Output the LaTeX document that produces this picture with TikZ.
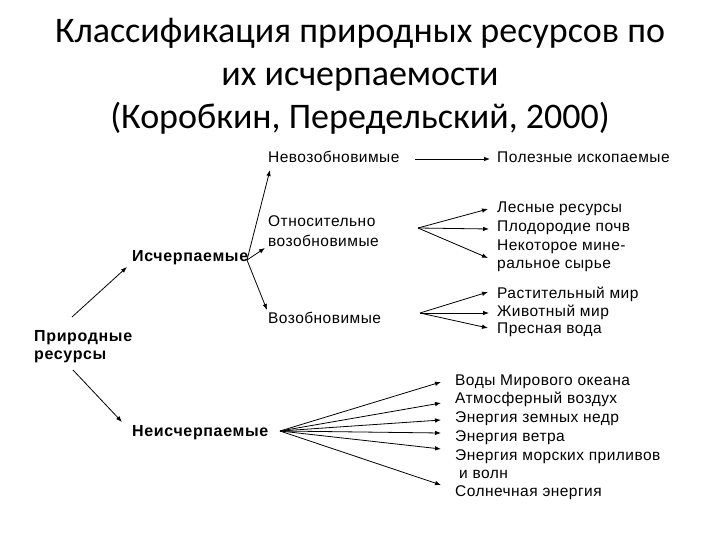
\documentclass[tikz,border=0pt]{standalone}
\usepackage{fontspec}
\setmainfont{Liberation Sans}
\newfontfamily\titlefont{Carlito}
\newfontfamily\dgfont{Liberation Sans}[LetterSpace=3]
\newfontfamily\dgbfont{Liberation Sans}[LetterSpace=4]
\usetikzlibrary{arrows.meta}
\begin{document}
\begin{tikzpicture}[x=1pt,y=-1pt,
  ttl/.style={anchor=base,inner sep=0pt,font=\titlefont\fontsize{36}{41}\selectfont},
  lbl/.style={anchor=base west,inner sep=0pt,font=\dgfont\fontsize{15.5}{18}\selectfont},
  blbl/.style={anchor=base west,inner sep=0pt,font=\dgbfont\bfseries\fontsize{16}{18}\selectfont},
  arr/.style={-{Latex[length=6pt,width=4.5pt]},line width=0.8pt}]
\useasboundingbox[fill=white] (0,0) rectangle (720,540);
% title
\node[ttl] (t1) at (360,43) {Классификация природных ресурсов по};
\node[ttl] (t2) at (360,86) {их исчерпаемости};
\node[ttl] (t3) at (360,129) {(Коробкин, Передельский, 2000)};
% left side
\node[blbl] (prir) at (34,341) {Природные};
\node[blbl] (prir2) at (34,359) {ресурсы};
\node[blbl] (isch) at (132,261) {Исчерпаемые};
\node[blbl] (neisch) at (132,436) {Неисчерпаемые};
% middle
\node[lbl] (nevoz) at (268,163) {Невозобновимые};
\node[lbl] (otn) at (268,226) {Относительно};
\node[lbl] (otn2) at (268,246) {возобновимые};
\node[lbl] (voz) at (268,323) {Возобновимые};
% right column 1
\node[lbl] (polez) at (497,163) {Полезные ископаемые};
\node[lbl] (les) at (497,213) {Лесные ресурсы};
\node[lbl] (plod) at (497,231) {Плодородие почв};
\node[lbl] (nek) at (497,250) {Некоторое мине-};
\node[lbl] (ral) at (497,268) {ральное сырье};
\node[lbl] (rast) at (497,298) {Растительный мир};
\node[lbl] (ziv) at (497,316) {Животный мир};
\node[lbl] (pres) at (497,333) {Пресная вода};
% right column 2
\node[lbl] (vody) at (455,385) {Воды Мирового океана};
\node[lbl] (atm) at (455,403) {Атмосферный воздух};
\node[lbl] (zem) at (455,422) {Энергия земных недр};
\node[lbl] (vet) at (455,441) {Энергия ветра};
\node[lbl] (mor) at (455,460) {Энергия морских приливов};
\node[lbl] (volny) at (459,478) {и волн};
\node[lbl] (soln) at (455,496) {Солнечная энергия};
% connector points
\coordinate (pA) at (72,317);
\coordinate (pB) at (73,370);
\coordinate (iO) at (247,260);
\coordinate (oO) at (418,228);
\coordinate (vO) at (420,313);
\coordinate (nO) at (280,431);
% arrows
\draw[arr] (pA) -- (127,267);
\draw[arr] (pB) -- (122,422);
\draw[arr] (iO) -- (270,170);
\draw[arr] (iO) -- (265,248);
\draw[arr] (iO) -- (267,310);
\draw[arr] (415,159) -- (490,159);
\draw[arr] (oO) -- (488,209);
\draw[arr] (oO) -- (489,229);
\draw[arr] (oO) -- (488,258);
\draw[arr] (vO) -- (488,292);
\draw[arr] (vO) -- (489,313);
\draw[arr] (vO) -- (488,328);
\draw[arr] (nO) -- (441,382);
\draw[arr] (nO) -- (441,403);
\draw[arr] (nO) -- (441,420);
\draw[arr] (nO) -- (441,433);
\draw[arr] (nO) -- (441,449);
\draw[arr] (nO) -- (441,485);
\end{tikzpicture}
\end{document}
